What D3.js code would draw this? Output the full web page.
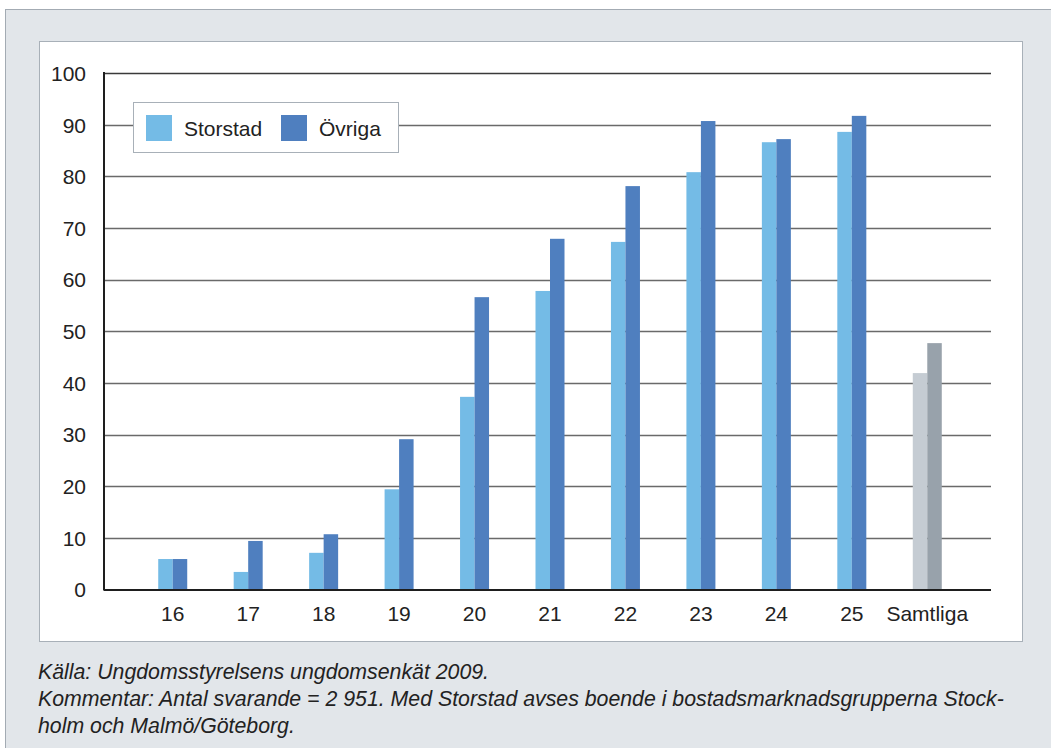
<!DOCTYPE html>
<html>
<head>
<meta charset="utf-8">
<script src="https://cdn.jsdelivr.net/npm/d3@7"></script>
<style>
  html, body { margin: 0; padding: 0; background: #ffffff; }
  svg { display: block; font-family: "Liberation Sans", Arial, sans-serif; }
</style>
</head>
<body>
<svg id="chart" width="1051" height="748"></svg>
<script>
// Andel (%) per ålder, storstad vs övriga
const categories = ["16", "17", "18", "19", "20", "21", "22", "23", "24", "25", "Samtliga"];
const storstad = [5.9, 3.4, 7.1, 19.4, 37.3, 57.8, 67.3, 80.8, 86.6, 88.6, 41.9];
const ovriga   = [5.9, 9.4, 10.7, 29.1, 56.6, 67.9, 78.1, 90.7, 87.2, 91.7, 47.7];
const seriesNames = ["Storstad", "Övriga"];
const yTicks = [0, 10, 20, 30, 40, 50, 60, 70, 80, 90, 100];
const footerLines = [
  "Källa: Ungdomsstyrelsens ungdomsenkät 2009.",
  "Kommentar: Antal svarande = 2 951. Med Storstad avses boende i bostadsmarknadsgrupperna Stock-",
  "holm och Malmö/Göteborg."
];

const colors = {
  Storstad: "#74bbe6",
  Övriga: "#4f7fbf",
  totalLight: "#c5ccd3",
  totalDark: "#98a2ab"
};

const svg = d3.select("#chart");

// Outer grey frame and white chart panel
svg.append("rect").attr("x", 5.5).attr("y", 9.5).attr("width", 1060).attr("height", 760)
  .attr("fill", "#e2e6ea").attr("stroke", "#a3abb3").attr("stroke-width", 1);
svg.append("rect").attr("x", 39.5).attr("y", 41.5).attr("width", 983).attr("height", 600)
  .attr("fill", "#ffffff").attr("stroke", "#a8b0b8").attr("stroke-width", 1);

const plot = { left: 104, right: 991, top: 73, bottom: 589.5 };

const x = d3.scaleBand().domain(categories).range([134, 964]).paddingInner(0).paddingOuter(0);
const y = d3.scaleLinear().domain([0, 100]).range([plot.bottom, plot.top]);
const barW = 14.5;

// Gridlines
const grid = svg.append("g");
grid.selectAll("line").data(yTicks.filter(d => d > 0)).join("line")
  .attr("x1", plot.left).attr("x2", plot.right)
  .attr("y1", d => Math.round(y(d)) + 0.5).attr("y2", d => Math.round(y(d)) + 0.5)
  .attr("stroke", d => d === 100 ? "#3a3a3a" : "#6a6a6a")
  .attr("stroke-width", 1.4);

// Bars
const rows = categories.map((c, i) => ({ c, i, s: storstad[i], o: ovriga[i] }));
const bars = svg.append("g");
rows.forEach(r => {
  const cx = x(r.c) + x.bandwidth() / 2 + 1;
  const isTotal = r.c === "Samtliga";
  bars.append("rect")
    .attr("x", cx - barW).attr("width", barW)
    .attr("y", y(r.s)).attr("height", y(0) - y(r.s))
    .attr("fill", isTotal ? colors.totalLight : colors.Storstad);
  bars.append("rect")
    .attr("x", cx).attr("width", barW)
    .attr("y", y(r.o)).attr("height", y(0) - y(r.o))
    .attr("fill", isTotal ? colors.totalDark : colors.Övriga);
});

// Axes
const yAxis = d3.axisLeft(y).tickValues(yTicks).tickSize(0).tickPadding(18);
const gy = svg.append("g").attr("transform", `translate(${plot.left},0)`).call(yAxis);
gy.select(".domain").remove();
gy.selectAll("text").attr("font-size", 21).attr("fill", "#222").attr("dy", "0.35em")
  .attr("font-family", "Liberation Sans, Arial, sans-serif");

const xAxis = d3.axisBottom(x).tickSize(0).tickPadding(17);
const gx = svg.append("g").attr("transform", `translate(1,${plot.bottom})`).call(xAxis);
gx.select(".domain").remove();
gx.selectAll("text").attr("font-size", 21).attr("fill", "#222")
  .attr("font-family", "Liberation Sans, Arial, sans-serif");

// Axis lines
svg.append("line").attr("x1", plot.left).attr("x2", plot.left)
  .attr("y1", plot.top - 1).attr("y2", plot.bottom + 1)
  .attr("stroke", "#1e1e1e").attr("stroke-width", 2);
svg.append("line").attr("x1", plot.left).attr("x2", plot.right)
  .attr("y1", plot.bottom + 0.5).attr("y2", plot.bottom + 0.5)
  .attr("stroke", "#1e1e1e").attr("stroke-width", 2.2);

// Legend
const legend = svg.append("g").attr("transform", "translate(133.5,102.5)");
legend.append("rect").attr("width", 265).attr("height", 50)
  .attr("fill", "#ffffff").attr("stroke", "#a8b0b8").attr("stroke-width", 1);
const legendX = [12.5, 147.5];
seriesNames.forEach((name, i) => {
  legend.append("rect").attr("x", legendX[i]).attr("y", 12.5).attr("width", 26).attr("height", 26)
    .attr("fill", colors[name]);
  legend.append("text").attr("x", legendX[i] + 38).attr("y", 33.5)
    .attr("font-size", 21).attr("fill", "#222").text(name);
});

// Source and comment
const footer = svg.append("g");
footerLines.forEach((t, i) => {
  footer.append("text").attr("x", 38).attr("y", 678.5 + i * 27)
    .attr("font-size", 21.3).attr("font-style", "italic").attr("fill", "#222").text(t);
});
</script>
</body>
</html>
